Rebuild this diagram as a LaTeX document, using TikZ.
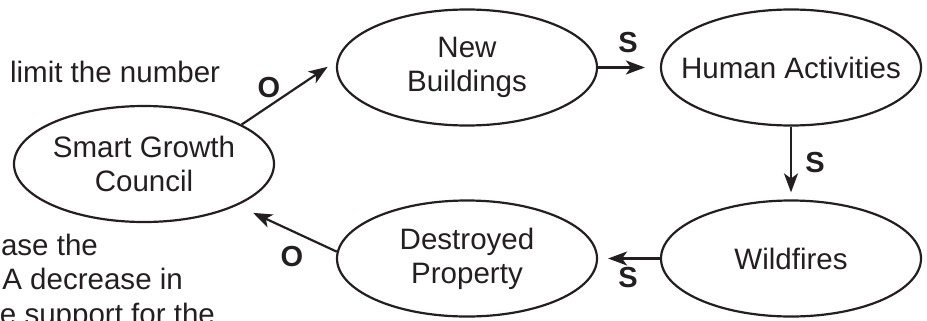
\documentclass[tikz,border=0pt]{standalone}
\usepackage{fontspec}
\setmainfont{Liberation Sans}
\usetikzlibrary{arrows.meta, shapes.geometric}
\definecolor{tinta}{RGB}{35,31,32}

\begin{document}
\begin{tikzpicture}[>={Stealth[length=3.8mm, width=2.8mm, inset=1mm]}, line width=1.25pt, color=tinta,
  nodo/.style={draw, ellipse, minimum width=5.2cm, minimum height=2.32cm, inner sep=0pt},
  rotulo/.style={align=center, inner sep=0pt, font=\fontsize{16.8}{19.2}\selectfont},
  signo/.style={inner sep=0pt, font=\bfseries\fontsize{16.5}{19}\selectfont},
  corte/.style={inner sep=0pt, font=\fontsize{16.8}{19.2}\selectfont}]
  \useasboundingbox (0,0) rectangle (18.54,6.4);
  \clip (0,0) rectangle (18.54,6.4);
  % restos de texto en el margen izquierdo
  \node[corte, anchor=base west] (t1) at (0.18,4.76) {limit the number};
  \node[corte, anchor=base east] (t2) at (1.98,1.30) {ease the};
  \node[corte, anchor=base east] (t3) at (3.68,0.61) {A decrease in};
  \node[corte, anchor=base east] (t4) at (4.32,-0.08) {e support for the};
  % ciclo de nodos
  \node[nodo, label={[rotulo]center:Smart Growth\\Council}] (sgc) at (2.88,3.12) {};
  \node[nodo, label={[rotulo]center:New\\Buildings}] (nb) at (9.34,5.05) {};
  \node[nodo, label={[rotulo]center:Human Activities}] (ha) at (15.82,5.05) {};
  \node[nodo, label={[rotulo]center:Wildfires}] (wf) at (15.82,1.23) {};
  \node[nodo, label={[rotulo]center:Destroyed\\Property}] (dp) at (9.34,1.23) {};
  % flechas del ciclo
  \draw[->, shorten >=0.22cm] (sgc.22) -- (nb.177);
  \draw[->, shorten >=0.30cm] (nb.east) -- (ha.west);
  \draw[->, shorten >=0.14cm] (ha.south) -- (wf.north);
  \draw[->, shorten >=0.20cm] (wf.west) -- (dp.east);
  \draw[->, shorten >=0.35cm] (dp.177) -- (sgc.-24);
  % signos
  \node[signo] (o1) at (5.38,4.64) {O};
  \node[signo] (s1) at (12.56,5.54) {S};
  \node[signo] (s2) at (16.30,3.14) {S};
  \node[signo] (s3) at (12.56,0.84) {S};
  \node[signo] (o2) at (5.84,1.26) {O};
\end{tikzpicture}
\end{document}
